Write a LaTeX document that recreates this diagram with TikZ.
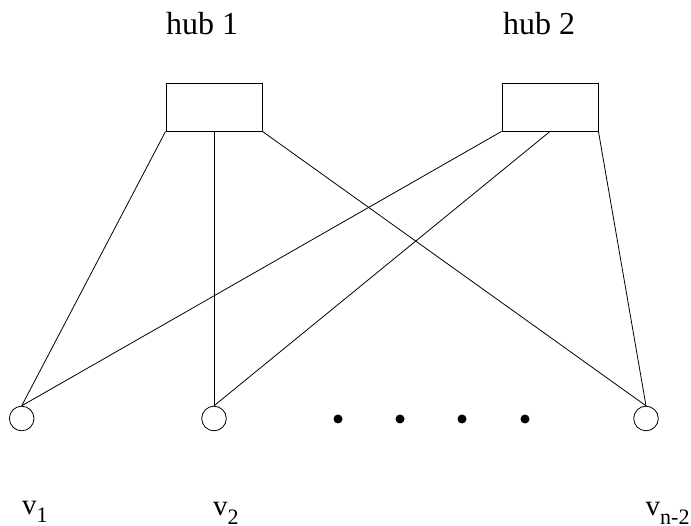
\documentclass[tikz,border=0pt]{standalone}
\usepackage{fontspec}
\setmainfont{Liberation Serif}
\begin{document}
\begin{tikzpicture}[x=1pt,y=-1pt,
  hubbox/.style={draw,line width=0.9pt,minimum width=96pt,minimum height=48pt,inner sep=0pt},
  vert/.style={draw,circle,line width=0.8pt,minimum size=24.6pt,inner sep=0pt},
  link/.style={line width=0.8pt},
  dotmark/.style={fill=black,circle,minimum size=9pt,inner sep=0pt},
  hublabel/.style={anchor=base,inner sep=0pt,font=\fontsize{32}{32}\selectfont},
  vlabel/.style={anchor=base west,inner sep=0pt,font=\fontsize{29}{29}\selectfont}]
\useasboundingbox (0,0) rectangle (691,526);
\node[hubbox] (h1) at (214,107) {};
\node[hubbox] (h2) at (550,107) {};
\node[hublabel] (l1) at (202,35) {hub 1};
\node[hublabel] (l2) at (539,35) {hub 2};
\node[vert] (v1) at (21.7,418.5) {};
\node[vert] (v2) at (214,418.5) {};
\node[vert] (vn) at (646,418.5) {};
\draw[link] (h1.south west) -- (v1.north);
\draw[link] (h1.south) -- (v2.north);
\draw[link] (h1.south east) -- (vn.north);
\draw[link] (h2.south west) -- (v1.north);
\draw[link] (h2.south) -- (v2.north);
\draw[link] (h2.south east) -- (vn.north);
\node[dotmark] (d1) at (338,419) {};
\node[dotmark] (d2) at (400,419) {};
\node[dotmark] (d3) at (462,419) {};
\node[dotmark] (d4) at (525,419) {};
\newcommand{\vsub}[1]{v\raisebox{-9pt}{\fontsize{22}{22}\selectfont #1}}
\node[vlabel] (t1) at (22,514) {\vsub{1}};
\node[vlabel] (t2) at (213,515) {\vsub{2}};
\node[vlabel] (tn) at (645.5,515) {\vsub{n-2}};
\end{tikzpicture}
\end{document}
